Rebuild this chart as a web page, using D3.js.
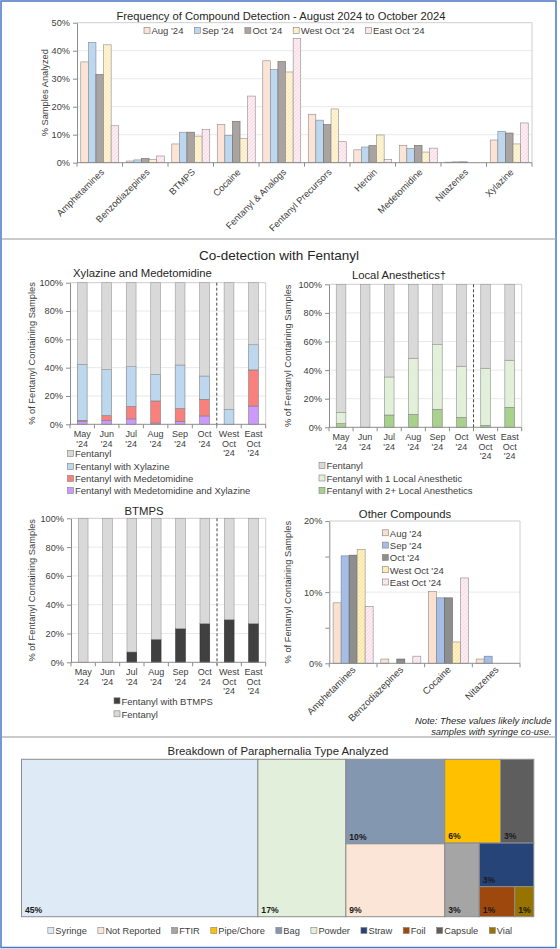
<!DOCTYPE html>
<html><head><meta charset="utf-8">
<script src="https://cdn.jsdelivr.net/npm/d3@7"></script>
<style>body{margin:0;background:#fff}svg{display:block}</style>
</head><body><svg id="c" width="560" height="949"></svg>
<script>
// ---------------- DATA ----------------
const topCategories = ["Amphetamines","Benzodiazepines","BTMPS","Cocaine","Fentanyl & Analogs","Fentanyl Precursors","Heroin","Medetomidine","Nitazenes","Xylazine"];
const seriesNames = ["Aug '24","Sep '24","Oct '24","West Oct '24","East Oct '24"];
const topAug  = [36.0, 0.6, 6.7, 13.6, 36.4, 17.3, 4.6, 6.1, 0.2, 8.1];
const topSep  = [43.0, 1.0, 10.9, 9.8, 33.3, 15.2, 5.6, 5.1, 0.3, 11.2];
const topOct  = [31.5, 1.5, 10.9, 14.8, 36.1, 13.6, 6.1, 6.2, 0.3, 10.6];
const topWest = [42.1, 1.1, 9.5, 8.6, 32.4, 19.2, 9.9, 3.8, 0, 6.7];
const topEast = [13.2, 2.4, 11.8, 23.8, 44.4, 7.5, 1.1, 5.2, 0, 14.2];
const topTicks = [0,10,20,30,40,50];

const months = ["May '24","Jun '24","Jul '24","Aug '24","Sep '24","Oct '24","West Oct '24","East Oct '24"];
const monthLines = [["May","'24"],["Jun","'24"],["Jul","'24"],["Aug","'24"],["Sep","'24"],["Oct","'24"],["West","Oct","'24"],["East","Oct","'24"]];
const pctTicks = [0,20,40,60,80,100];

// Xylazine and Medetomidine (stack bottom -> top)
const xyMedXyl = [2.2, 2.8, 3.8, 0.9, 2.1, 5.9, 0, 12.9];
const xyMed    = [0.6, 3.3, 8.7, 15.6, 9.0, 11.7, 0, 25.5];
const xyXyl    = [39.6, 32.5, 28.2, 18.8, 30.8, 16.5, 10.6, 17.8];
const xyFent   = [57.6, 61.4, 59.3, 64.7, 58.1, 65.9, 89.4, 43.8];

// Local Anesthetics
const la2    = [2.6, 0, 8.6, 9.1, 12.6, 7.0, 1.4, 14.0];
const la1    = [7.9, 0, 26.6, 39.2, 45.2, 35.7, 39.9, 32.9];
const laFent = [89.5, 100, 64.8, 51.7, 42.2, 57.3, 58.7, 53.1];

// BTMPS
const btWith = [0, 0, 7.2, 16.0, 23.4, 26.9, 29.6, 26.9];
const btFent = [100, 100, 92.8, 84.0, 76.6, 73.1, 70.4, 73.1];

// Other Compounds
const otherCategories = ["Amphetamines","Benzodiazepines","Cocaine","Nitazenes"];
const otAug  = [8.5, 0.6, 10.1, 0.6];
const otSep  = [15.1, 0, 9.2, 1.0];
const otOct  = [15.2, 0.6, 9.2, 0];
const otWest = [16.0, 0, 3.0, 0];
const otEast = [8.0, 1.0, 12.0, 0];
const otTicks = [0,5,10,15,20];
const otLabelTicks = [0,10,20];

// Treemap
const tmNames  = ["Syringe","Powder","Bag","Not Reported","Pipe/Chore","Capsule","FTIR","Straw","Foil","Vial"];
const tmValues = [45.4, 16.9, 10.2, 8.8, 5.7, 3.4, 3.1, 2.9, 1.3, 0.7];
const tmLabels = ["45%","17%","10%","9%","6%","3%","3%","3%","1%","1%"];
const tmLegendOrder = ["Syringe","Not Reported","FTIR","Pipe/Chore","Bag","Powder","Straw","Foil","Capsule","Vial"];

// ---------------- SETUP ----------------
const FONT = "'Liberation Sans', Arial, sans-serif";
const svg = d3.select("#c").attr("font-family", FONT);
svg.append("rect").attr("width",560).attr("height",949).attr("fill","#fff");
const defs = svg.append("defs");
function hatch(id, bg, line){
  const p = defs.append("pattern").attr("id",id).attr("patternUnits","userSpaceOnUse")
    .attr("width",2.5).attr("height",2.5).attr("patternTransform","rotate(45)");
  p.append("rect").attr("width",2.5).attr("height",2.5).attr("fill",bg);
  p.append("line").attr("x1",0.4).attr("y1",0).attr("x2",0.4).attr("y2",2.5).attr("stroke",line).attr("stroke-width",0.5);
}
hatch("hWest","#FFF5D6","#F2DFA2");
hatch("hEast","#FDEEF4","#F4C6D8");
hatch("hWest2","#FFF1C2","#F0D887");
hatch("hEast2","#FDEEF4","#F4C6D8");

const AX = "#8C8C8C", FR = "#C8C8C8", GR = "#E6E6E6", TX = "#404040";

function styleAxis(a, fs){
  a.attr("font-family", FONT).attr("font-size", fs);
  a.select(".domain").attr("stroke", AX);
  a.selectAll(".tick line").attr("stroke", AX);
  a.selectAll(".tick text").attr("fill", TX);
}

function legendRow(g, x, y, items, fs){
  let cx = x;
  items.forEach(it => {
    g.append("rect").attr("x",cx).attr("y",y-3.5).attr("width",6).attr("height",6)
      .attr("fill",it.fill).attr("stroke","#7F7F7F").attr("stroke-width",0.6);
    const t = g.append("text").attr("x",cx+7.5).attr("y",y+3.3).attr("font-size",fs).attr("fill",TX).text(it.name);
    cx += 7.5 + t.node().getComputedTextLength() + 11;
  });
  return cx;
}
function legendCol(g, x, ys, items, fs){
  items.forEach((it,i) => {
    g.append("rect").attr("x",x).attr("y",ys[i]-3.5).attr("width",6).attr("height",6)
      .attr("fill",it.fill).attr("stroke","#7F7F7F").attr("stroke-width",0.6);
    g.append("text").attr("x",x+7.5).attr("y",ys[i]+3.3).attr("font-size",fs).attr("fill",TX).text(it.name);
  });
}

// ---------------- GROUPED BAR CHART ----------------
function grouped(cfg){
  const g = svg.append("g");
  const x0 = d3.scaleBand().domain(cfg.cats).range([cfg.left,cfg.right]).paddingInner(cfg.pin).paddingOuter(cfg.pin/2);
  const x1 = d3.scaleBand().domain(cfg.series.map(s=>s.name)).range([0,x0.bandwidth()]);
  const y = d3.scaleLinear().domain([0,cfg.ymax]).range([cfg.bottom,cfg.top]);
  g.selectAll(null).data(cfg.grid).join("line")
    .attr("x1",cfg.left).attr("x2",cfg.right).attr("y1",d=>y(d)).attr("y2",d=>y(d))
    .attr("stroke",GR).attr("stroke-width",0.9);
  g.append("path").attr("d",`M${cfg.left},${y(cfg.ymax)}H${cfg.right}V${y(0)}`)
    .attr("fill","none").attr("stroke",FR).attr("stroke-width",0.9);
  cfg.series.forEach(s => {
    g.selectAll(null).data(cfg.cats.map((c,i)=>({c, v:s.values[i]})).filter(d=>d.v>0)).join("rect")
      .attr("x",d=>x0(d.c)+x1(s.name)).attr("width",x1.bandwidth())
      .attr("y",d=>y(d.v)).attr("height",d=>y(0)-y(d.v))
      .attr("fill",s.fill).attr("stroke",s.stroke).attr("stroke-width",0.6);
  });
  g.append("g").attr("transform",`translate(${cfg.left},0)`)
    .call(d3.axisLeft(y).tickValues(cfg.ticks).tickSize(4).tickSizeOuter(0)
      .tickFormat(d => cfg.labelTicks.includes(d) ? d + "%" : ""))
    .call(a => styleAxis(a, cfg.tickFs));
  const xa = g.append("g");
  xa.append("line").attr("x1",cfg.left).attr("x2",cfg.right).attr("y1",y(0)).attr("y2",y(0)).attr("stroke",AX);
  xa.selectAll(null).data(d3.range(cfg.cats.length+1)).join("line")
    .attr("x1",i=>cfg.left+i*x0.step()).attr("x2",i=>cfg.left+i*x0.step())
    .attr("y1",y(0)).attr("y2",y(0)+4).attr("stroke",AX);
  xa.selectAll(null).data(cfg.cats).join("text")
    .attr("transform",d=>`translate(${x0(d)+x0.bandwidth()/2+cfg.lblDx},${y(0)+cfg.lblDy}) rotate(-45)`)
    .attr("text-anchor","end").attr("font-size",cfg.lblFs).attr("fill",TX).text(d=>d);
  return {g, x0, y};
}

// ---------------- STACKED BAR CHART ----------------
function stacked(cfg){
  const g = svg.append("g");
  const x = d3.scaleBand().domain(months).range([cfg.left,cfg.right]).paddingInner(0.6).paddingOuter(0.3);
  const y = d3.scaleLinear().domain([0,100]).range([cfg.bottom,cfg.top]);
  g.selectAll(null).data([20,40,60,80]).join("line")
    .attr("x1",cfg.left).attr("x2",cfg.right).attr("y1",d=>y(d)).attr("y2",d=>y(d))
    .attr("stroke",GR).attr("stroke-width",0.9);
  g.append("path").attr("d",`M${cfg.left},${y(100)}H${cfg.right}V${y(0)}`)
    .attr("fill","none").attr("stroke",FR).attr("stroke-width",0.9);
  const rows = months.map((m,i) => { const o = {m}; cfg.keys.forEach(k => o[k.name] = k.values[i]); return o; });
  const layers = d3.stack().keys(cfg.keys.map(k=>k.name))(rows);
  layers.forEach((layer, li) => {
    const k = cfg.keys[li];
    g.selectAll(null).data(layer.filter(d => d[1]-d[0] > 0)).join("rect")
      .attr("x",d=>x(d.data.m)).attr("width",x.bandwidth())
      .attr("y",d=>y(d[1])).attr("height",d=>y(d[0])-y(d[1]))
      .attr("fill",k.fill).attr("stroke",k.stroke).attr("stroke-width",0.6);
  });
  const xd = cfg.left + 6*x.step();
  g.append("line").attr("x1",xd).attr("x2",xd).attr("y1",y(100)).attr("y2",y(0)+3)
    .attr("stroke","#333").attr("stroke-width",0.9).attr("stroke-dasharray","3,2");
  g.append("g").attr("transform",`translate(${cfg.left},0)`)
    .call(d3.axisLeft(y).tickValues(pctTicks).tickSize(4).tickSizeOuter(0).tickFormat(d=>d+"%"))
    .call(a => styleAxis(a, 9.2));
  g.append("line").attr("x1",cfg.left).attr("x2",cfg.right).attr("y1",y(0)).attr("y2",y(0)).attr("stroke",AX);
  g.selectAll(null).data(d3.range(months.length+1)).join("line")
    .attr("x1",i=>cfg.left+i*x.step()).attr("x2",i=>cfg.left+i*x.step())
    .attr("y1",y(0)).attr("y2",y(0)+4).attr("stroke",AX);
  months.forEach((m,i) => {
    const t = g.append("text").attr("text-anchor","middle").attr("font-size",9).attr("fill",TX);
    monthLines[i].forEach((ln,j) => t.append("tspan").attr("x",x(m)+x.bandwidth()/2).attr("y",y(0)+12.8+j*9.4).text(ln));
  });
  g.append("text").attr("x",cfg.titleX).attr("y",cfg.titleY).attr("text-anchor",cfg.titleAnchor||"middle")
    .attr("font-size",11.3).attr("fill","#262626").text(cfg.title);
  g.append("text").attr("transform",`translate(${cfg.ylabX},${(y(0)+y(100))/2}) rotate(-90)`)
    .attr("text-anchor","middle").attr("font-size",9.3).attr("fill",TX).text("% of Fentanyl Containing Samples");
  legendCol(g, cfg.legX, cfg.legYs, cfg.legend, 9.5);
}

// ---------------- FRAME ----------------
svg.append("rect").attr("x",1).attr("y",1).attr("width",555).attr("height",946.5)
  .attr("fill","none").attr("stroke","#4A77C4").attr("stroke-width",1.5);
[239, 737].forEach(yy => svg.append("line").attr("x1",2).attr("x2",555.5).attr("y1",yy).attr("y2",yy)
  .attr("stroke","#B8B8B8").attr("stroke-width",1.5));

// ---------------- TOP CHART ----------------
const topFills = [
  {fill:"#FBE3D5", stroke:"#8C8C8C"},
  {fill:"#BDD7EE", stroke:"#7F8A96"},
  {fill:"#A9A4A1", stroke:"#6E6A68"},
  {fill:"url(#hWest)", stroke:"#8C8C8C"},
  {fill:"url(#hEast)", stroke:"#8C8C8C"}
];
const topVals = [topAug, topSep, topOct, topWest, topEast];
grouped({
  cats: topCategories,
  series: seriesNames.map((n,i)=>({name:n, values:topVals[i], fill:topFills[i].fill, stroke:topFills[i].stroke})),
  left:77, right:532, top:22.7, bottom:162.7, ymax:50, pin:0.165,
  grid:[10,20,30,40], ticks:topTicks, labelTicks:topTicks, tickFs:9.2,
  lblDx:5, lblDy:10, lblFs:9.4
});
svg.append("text").attr("x",281).attr("y",19.5).attr("text-anchor","middle").attr("font-size",11.2)
  .attr("fill","#262626").text("Frequency of Compound Detection - August 2024 to October 2024");
svg.append("text").attr("transform","translate(48,92.7) rotate(-90)").attr("text-anchor","middle")
  .attr("font-size",9.3).attr("fill",TX).text("% Samples Analyzed");
legendRow(svg.append("g"), 144, 31, seriesNames.map((n,i)=>({name:n, fill:topFills[i].fill})), 9.5);

// ---------------- MIDDLE ----------------
svg.append("text").attr("x",279).attr("y",260).attr("text-anchor","middle").attr("font-size",13.5)
  .attr("fill","#262626").text("Co-detection with Fentanyl");

stacked({
  left:70, right:265.7, top:282.7, bottom:424.3,
  keys:[
    {name:"Fentanyl with Medetomidine and Xylazine", values:xyMedXyl, fill:"#CC99FF", stroke:"#7F7F7F"},
    {name:"Fentanyl with Medetomidine", values:xyMed, fill:"#F8817E", stroke:"#7F7F7F"},
    {name:"Fentanyl with Xylazine", values:xyXyl, fill:"#BDD7EE", stroke:"#7F7F7F"},
    {name:"Fentanyl", values:xyFent, fill:"#D9D9D9", stroke:"#9A9A9A"}
  ],
  title:"Xylazine and Medetomidine", titleX:73, titleY:277, titleAnchor:"start", ylabX:35,
  legX:67.5, legYs:[454, 467, 479, 491],
  legend:[
    {name:"Fentanyl", fill:"#D9D9D9"},
    {name:"Fentanyl with Xylazine", fill:"#BDD7EE"},
    {name:"Fentanyl with Medetomidine", fill:"#F8817E"},
    {name:"Fentanyl with Medetomidine and Xylazine", fill:"#CC99FF"}
  ]
});

stacked({
  left:329, right:521.7, top:284.3, bottom:427.3,
  keys:[
    {name:"Fentanyl with 2+ Local Anesthetics", values:la2, fill:"#A9D18E", stroke:"#7F7F7F"},
    {name:"Fentanyl with 1 Local Anesthetic", values:la1, fill:"#E2F0D9", stroke:"#8C8C8C"},
    {name:"Fentanyl", values:laFent, fill:"#D9D9D9", stroke:"#9A9A9A"}
  ],
  title:"Local Anesthetics\u2020", titleX:399, titleY:279, ylabX:291,
  legX:319, legYs:[466, 478.5, 490.8],
  legend:[
    {name:"Fentanyl", fill:"#D9D9D9"},
    {name:"Fentanyl with 1 Local Anesthetic", fill:"#E2F0D9"},
    {name:"Fentanyl with 2+ Local Anesthetics", fill:"#A9D18E"}
  ]
});

stacked({
  left:71, right:265.7, top:518.3, bottom:662.3,
  keys:[
    {name:"Fentanyl with BTMPS", values:btWith, fill:"#404040", stroke:"#333"},
    {name:"Fentanyl", values:btFent, fill:"#D9D9D9", stroke:"#9A9A9A"}
  ],
  title:"BTMPS", titleX:144, titleY:515, ylabX:35,
  legX:114, legYs:[701.3, 714.3],
  legend:[
    {name:"Fentanyl with BTMPS", fill:"#404040"},
    {name:"Fentanyl", fill:"#D9D9D9"}
  ]
});

const otFills = [
  {fill:"#FBE0CF", stroke:"#8C8C8C"},
  {fill:"#A6BEE6", stroke:"#6F7F99"},
  {fill:"#8E8E8E", stroke:"#5F5F5F"},
  {fill:"url(#hWest2)", stroke:"#8C8C8C"},
  {fill:"url(#hEast2)", stroke:"#8C8C8C"}
];
const otVals = [otAug, otSep, otOct, otWest, otEast];
grouped({
  cats: otherCategories,
  series: seriesNames.map((n,i)=>({name:n, values:otVals[i], fill:otFills[i].fill, stroke:otFills[i].stroke})),
  left:329.3, right:520, top:521, bottom:663.3, ymax:20, pin:0.16,
  grid:[10], ticks:otTicks, labelTicks:otLabelTicks, tickFs:9.2,
  lblDx:3, lblDy:7, lblFs:9.6
});
svg.append("text").attr("x",405).attr("y",517.5).attr("text-anchor","middle").attr("font-size",11.3)
  .attr("fill","#262626").text("Other Compounds");
svg.append("text").attr("transform",`translate(291,${(521+663.3)/2}) rotate(-90)`).attr("text-anchor","middle")
  .attr("font-size",9.3).attr("fill",TX).text("% of Fentanyl Containing Samples");
legendCol(svg.append("g"), 382.3, [533.3,545.6,557.9,570.2,582.5], seriesNames.map((n,i)=>({name:n, fill:otFills[i].fill})), 9.5);
svg.append("text").attr("x",551.5).attr("y",723.5).attr("text-anchor","end").attr("font-size",9.4)
  .attr("font-style","italic").attr("fill","#262626").text("Note: These values likely include");
svg.append("text").attr("x",551.5).attr("y",735).attr("text-anchor","end").attr("font-size",9.4)
  .attr("font-style","italic").attr("fill","#262626").text("samples with syringe co-use.");

// ---------------- TREEMAP ----------------
const tmColors = {"Syringe":"#DEEAF6","Powder":"#E2EFDA","Bag":"#8497B0","Not Reported":"#FBE5D6",
  "Pipe/Chore":"#FFC000","Capsule":"#5E5E5E","FTIR":"#A5A5A5","Straw":"#264478","Foil":"#9E480E","Vial":"#997300"};
const leaf = n => { const i = tmNames.indexOf(n); return {name:n, value:tmValues[i], label:tmLabels[i]}; };
const tmTree = {dir:"h", children:[
  leaf("Syringe"), leaf("Powder"),
  {dir:"v", children:[leaf("Bag"), leaf("Not Reported")]},
  {dir:"v", children:[
    {dir:"h", children:[leaf("Pipe/Chore"), leaf("Capsule")]},
    {dir:"h", children:[leaf("FTIR"), {dir:"v", children:[leaf("Straw"), {dir:"h", children:[leaf("Foil"), leaf("Vial")]}]}]}
  ]}
]};
const tmRoot = d3.hierarchy(tmTree).sum(d => d.value || 0);
d3.treemap().size([512.3, 157.4])
  .tile((node,x0,y0,x1,y1) => (node.data.dir === "v" ? d3.treemapSlice : d3.treemapDice)(node,x0,y0,x1,y1))(tmRoot);
const tg = svg.append("g").attr("transform","translate(21.5,759.3)");
const cells = tg.selectAll("g").data(tmRoot.leaves()).join("g");
cells.append("rect").attr("x",d=>d.x0).attr("y",d=>d.y0).attr("width",d=>d.x1-d.x0).attr("height",d=>d.y1-d.y0)
  .attr("fill",d=>tmColors[d.data.name]).attr("stroke","#8C8C8C").attr("stroke-width",1);
cells.append("text").attr("x",d=>d.x0+3.5).attr("y",d=>d.y1-4).attr("font-size",8.6).attr("font-weight","bold")
  .attr("fill","#1A1A1A").text(d=>d.data.label);
svg.append("text").attr("x",278).attr("y",754.5).attr("text-anchor","middle").attr("font-size",11.4)
  .attr("fill","#262626").text("Breakdown of Paraphernalia Type Analyzed");
const lg = svg.append("g");
const endX = legendRow(lg, 0, 931, tmLegendOrder.map(n=>({name:n, fill:tmColors[n]})), 9.3);
lg.attr("transform",`translate(${280 - (endX-11)/2},0)`);
</script></body></html>
